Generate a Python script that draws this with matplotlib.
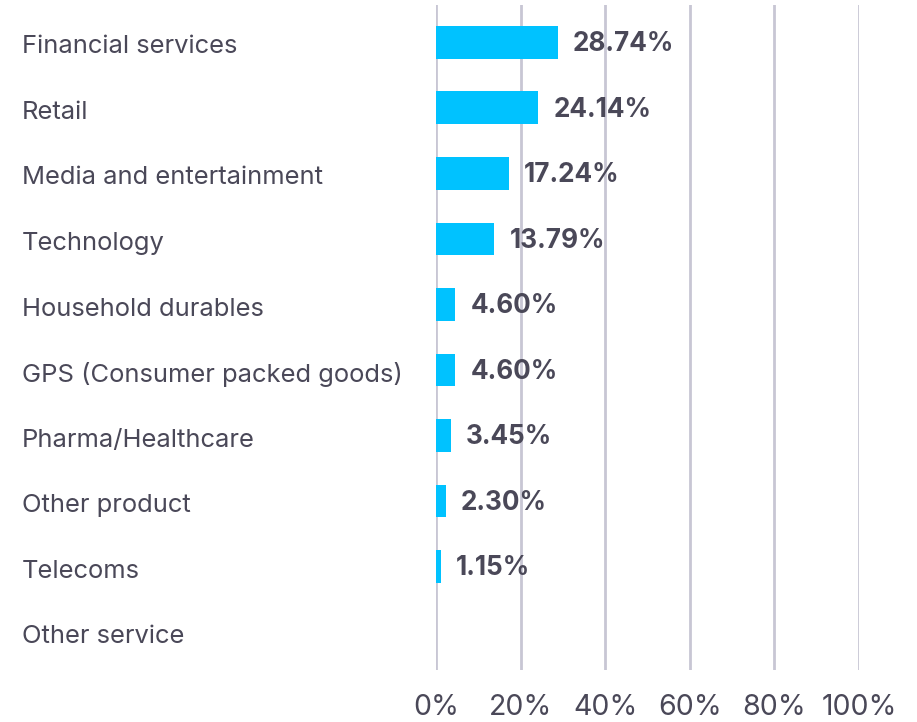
import matplotlib.pyplot as plt
import matplotlib.transforms as mtransforms

plt.rcParams["font.family"] = ["Inter", "DejaVu Sans"]

categories = [
    "Financial services",
    "Retail",
    "Media and entertainment",
    "Technology",
    "Household durables",
    "GPS (Consumer packed goods)",
    "Pharma/Healthcare",
    "Other product",
    "Telecoms",
    "Other service",
]
shares = [28.74, 24.14, 17.24, 13.79, 4.60, 4.60, 3.45, 2.30, 1.15, 0.0]
ticks = [0, 20, 40, 60, 80, 100]

BAR = "#00c2ff"
TEXT = "#4a4858"
GRID = "#c8c6d4"

W, H = 917, 722
fig = plt.figure(figsize=(W / 100, H / 100), dpi=100)
ax = fig.add_axes([436 / W, 1 - 670 / H, (859 - 436) / W, (670 - 5) / H])

rows = list(range(len(categories)))
ax.barh(rows, shares, height=0.5, color=BAR, zorder=3)
ax.set_xlim(0, 100)
ax.set_ylim(9.58, -0.57)

for t in ticks:
    ax.axvline(t, color=GRID, lw=2, zorder=1)

for sp in ax.spines.values():
    sp.set_visible(False)
ax.set_yticks([])
ax.set_xticks(ticks)
ax.set_xticklabels([f"{t}%" for t in ticks], fontsize=20.5, color=TEXT)
ax.tick_params(axis="x", length=0, pad=17)

lab = mtransforms.blended_transform_factory(fig.transFigure, ax.transData)
for i, name in enumerate(categories):
    ax.text(22 / W, i + 0.07, name, transform=lab, ha="left", va="center",
            fontsize=18.4, color=TEXT)

for i, v in enumerate(shares):
    if v > 0:
        ax.annotate(f"{v:.2f}%", (v, i + 0.03), xytext=(11, 0),
                    textcoords="offset points", ha="left", va="center",
                    fontsize=18.8, fontweight="bold", color=TEXT, zorder=4)

fig.savefig("out.png", dpi=100, facecolor="white")
